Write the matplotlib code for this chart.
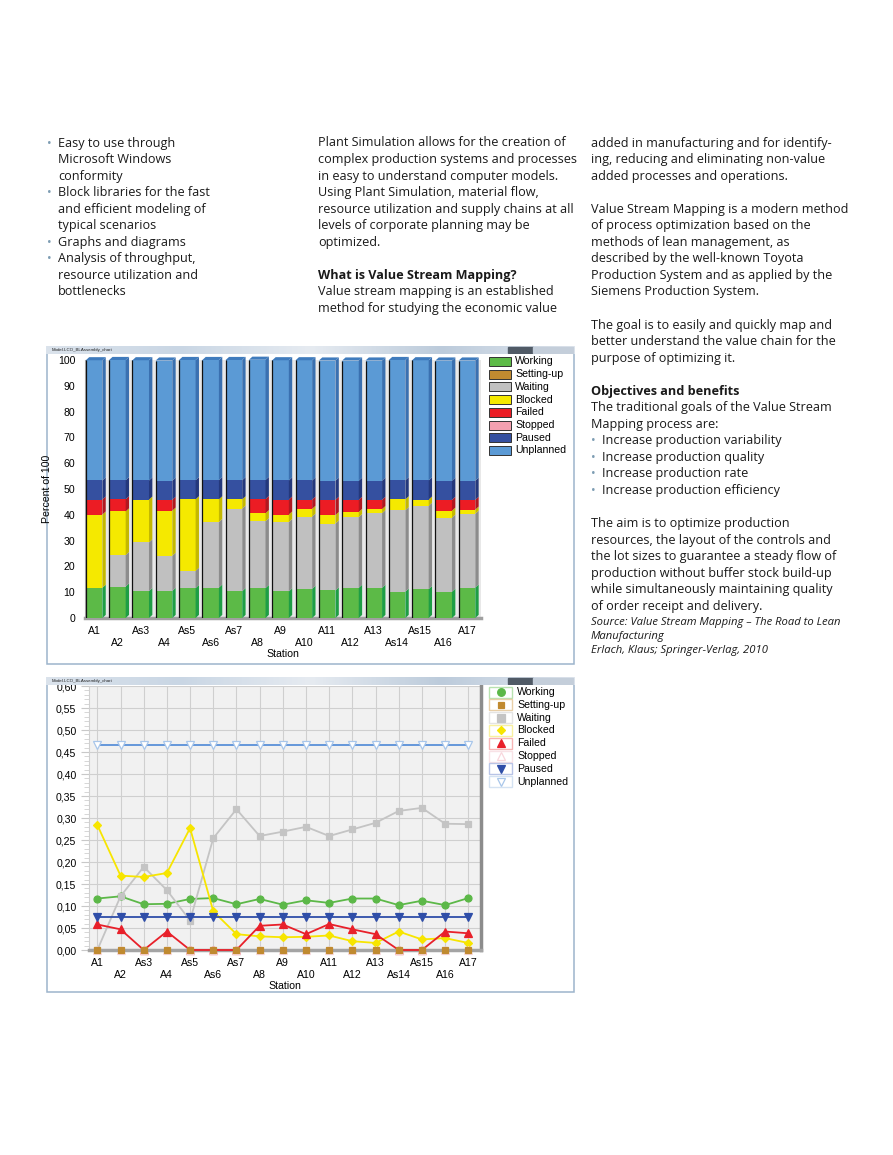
import numpy as np
import matplotlib.pyplot as plt
from matplotlib.patches import Rectangle, Polygon
from matplotlib.ticker import MultipleLocator, FuncFormatter
from matplotlib.colors import LinearSegmentedColormap

# ---------------------------------------------------------------
# data (fractions of time per station)
stations = ['A1', 'A2', 'As3', 'A4', 'As5', 'As6', 'As7', 'A8', 'A9', 'A10',
            'A11', 'A12', 'A13', 'As14', 'As15', 'A16', 'A17']
working = [0.117, 0.122, 0.104, 0.105, 0.116, 0.118, 0.104, 0.116, 0.103, 0.113,
           0.107, 0.117, 0.117, 0.102, 0.112, 0.102, 0.118]
setting_up = [0, 0, 0, 0, 0, 0, 0, 0, 0, 0, 0, 0, 0, 0, 0, 0, 0]
waiting = [0.000, 0.122, 0.189, 0.136, 0.067, 0.254, 0.320, 0.259, 0.269, 0.280,
           0.259, 0.274, 0.289, 0.316, 0.323, 0.287, 0.286]
blocked = [0.284, 0.169, 0.166, 0.175, 0.277, 0.088, 0.036, 0.031, 0.029, 0.030,
           0.033, 0.020, 0.016, 0.042, 0.024, 0.027, 0.016]
failed = [0.058, 0.047, 0.000, 0.042, 0.000, 0.000, 0.000, 0.055, 0.058, 0.036,
          0.059, 0.047, 0.036, 0.000, 0.000, 0.042, 0.038]
stopped = [0, 0, 0, 0, 0, 0, 0, 0, 0, 0, 0, 0, 0, 0, 0, 0, 0]
paused = [0.074, 0.074, 0.074, 0.074, 0.074, 0.074, 0.074, 0.074, 0.074, 0.074,
          0.074, 0.074, 0.074, 0.074, 0.074, 0.074, 0.074]
unplanned = [0.466, 0.466, 0.466, 0.466, 0.466, 0.466, 0.466, 0.466, 0.466, 0.466,
             0.466, 0.466, 0.466, 0.466, 0.466, 0.466, 0.466]

states = ['Working', 'Setting-up', 'Waiting', 'Blocked', 'Failed', 'Stopped', 'Paused', 'Unplanned']
series = [working, setting_up, waiting, blocked, failed, stopped, paused, unplanned]

# colours: front face, side face
bar_front = ['#5cba47', '#c08a30', '#c0c0c0', '#f5e900', '#ec1c24', '#f4a0b0', '#3550a0', '#5b9ad5']
bar_side = ['#1e9e45', '#8a6020', '#8c8c8c', '#c4b800', '#b01820', '#c07080', '#24387c', '#3a70b0']

line_col = ['#5cb848', '#c08a30', '#c4c4c4', '#f7e500', '#e8202a', '#f8d8dc', '#2f4ea8', '#5a90d8']
mark_face = ['#5cb848', '#c08a30', '#c4c4c4', '#f7e500', '#e8202a', 'none', '#2f4ea8', 'white']
mark_edge = ['#5cb848', '#c08a30', '#c4c4c4', '#f7e500', '#e8202a', '#f8d6dc', '#2f4ea8', '#a8c6ea']
markers = ['o', 's', 's', 'D', '^', '^', 'v', 'v']
msizes = [5, 4.2, 5, 4, 5.5, 5.5, 5.5, 5.5]
leg_box = ['#b8e2b0', '#e8cfa8', '#e4e4e4', '#f8f0a0', '#f6b4b4', '#f8e2e6', '#b8c4e6', '#d4e2f2']

# page text
col1 = ['* Easy to use through', 'Microsoft Windows', 'conformity',
        '* Block libraries for the fast', 'and efficient modeling of', 'typical scenarios',
        '* Graphs and diagrams', '* Analysis of throughput,', 'resource utilization and',
        'bottlenecks']
col2 = ['Plant Simulation allows for the creation of', 'complex production systems and processes',
        'in easy to understand computer models.', 'Using Plant Simulation, material flow,',
        'resource utilization and supply chains at all', 'levels of corporate planning may be',
        'optimized.', '', '#What is Value Stream Mapping?', 'Value stream mapping is an established',
        'method for studying the economic value']
col3 = ['added in manufacturing and for identify-', 'ing, reducing and eliminating non-value',
        'added processes and operations.', '',
        'Value Stream Mapping is a modern method', 'of process optimization based on the',
        'methods of lean management, as', 'described by the well-known Toyota',
        'Production System and as applied by the', 'Siemens Production System.', '',
        'The goal is to easily and quickly map and', 'better understand the value chain for the',
        'purpose of optimizing it.', '', '#Objectives and benefits',
        'The traditional goals of the Value Stream', 'Mapping process are:',
        '* Increase production variability', '* Increase production quality',
        '* Increase production rate', '* Increase production efficiency', '',
        'The aim is to optimize production', 'resources, the layout of the controls and',
        'the lot sizes to guarantee a steady flow of', 'production without buffer stock build-up',
        'while simultaneously maintaining quality', 'of order receipt and delivery.']
source = ['Source: Value Stream Mapping \u2013 The Road to Lean', 'Manufacturing',
          'Erlach, Klaus; Springer-Verlag, 2010']

# ---------------------------------------------------------------
W, H = 893, 1155
fig = plt.figure(figsize=(W / 100, H / 100), dpi=100)
fig.patch.set_facecolor('white')


def rect(x0, y0, x1, y1):
    # pixel box (top-left origin) -> figure fraction
    return [x0 / W, 1 - y1 / H, (x1 - x0) / W, (y1 - y0) / H]


body_font = 'Open Sans'
body_size = 9.05
text_col = '#1a1a1a'
bullet_col = '#7d9db3'
step = 16.55


def write_column(lines, x, y0, indent=0):
    for i, s in enumerate(lines):
        y = 1 - (y0 + i * step) / H
        if s.startswith('* '):
            fig.text(x / W, y, '\u2022', fontsize=body_size, color=bullet_col,
                     family=body_font, va='center')
            fig.text((x + 11) / W, y, s[2:], fontsize=body_size, color=text_col,
                     family=body_font, va='center')
        elif s.startswith('#'):
            fig.text(x / W, y, s[1:], fontsize=body_size, color=text_col,
                     family=body_font, weight='bold', va='center')
        else:
            fig.text((x + indent) / W, y, s, fontsize=body_size, color=text_col,
                     family=body_font, va='center')


write_column(col1, 47, 143, indent=11)
write_column(col2, 318, 143)
write_column(col3, 591, 143)
for i, s in enumerate(source):
    fig.text(591 / W, 1 - (622 + i * 14.5) / H, s, fontsize=8.1, color=text_col,
             family=body_font, style='italic', va='center')

chart_font = 'Liberation Sans'
fs = 7.6


def frame(x0, y0, x1, y1):
    fa = fig.add_axes(rect(x0, y0, x1, y1))
    fa.set_xlim(x0, x1)
    fa.set_ylim(y1, y0)
    fa.axis('off')
    fa.add_patch(Rectangle((x0 + 0.6, y0 + 0.6), x1 - x0 - 1.2, y1 - y0 - 1.2, facecolor='white',
                           edgecolor='#9cb4cc', lw=1.1))
    return fa


def title_bar(x0, y0, x1):
    ta = fig.add_axes(rect(x0, y0, x1, y0 + 8))
    ta.set_xlim(x0, x1)
    ta.set_ylim(y0 + 8, y0)
    ta.axis('off')
    grad = np.linspace(0, 1, 200)[None, :]
    ta.imshow(grad, cmap=LinearSegmentedColormap.from_list(
        'tb', ['#dbe3ec', '#c9d6e4', '#e6ebf1', '#bccbdb', '#e0e6ee']),
        extent=[x0, x1, y0 + 8, y0], aspect='auto')
    ta.add_patch(Rectangle((508, y0 + 1), 25, 6, color='#505a66'))
    ta.add_patch(Rectangle((533, y0 + 1), 40, 6, color='#c4ceda'))
    ta.text(x0 + 6, y0 + 4, 'Model.LCO_BLAssembly_chart', fontsize=3.2, color='#222222',
            family=chart_font, va='center')


# ---------------------------------------------------------------
# 1. stacked 3D-look bar chart
frame(46, 346, 575, 665)
ax1 = fig.add_axes(rect(85, 360, 481, 618))
ax1.set_facecolor('#e8e8e8')
x = np.arange(len(stations))
w = 0.71
dx, dy = 0.145, 1.2
bottom = np.zeros(len(stations))
for k, vals in enumerate(series):
    h = np.array(vals) * 100
    ax1.bar(x, h, bottom=bottom, width=w, color=bar_front[k], zorder=3, linewidth=0)
    for i in range(len(x)):
        if h[i] <= 0:
            continue
        xr = x[i] + w / 2
        ax1.add_patch(Polygon([(xr, bottom[i]), (xr + dx, bottom[i] + dy),
                               (xr + dx, bottom[i] + h[i] + dy), (xr, bottom[i] + h[i])],
                              closed=True, facecolor=bar_side[k], edgecolor='none',
                              zorder=3, clip_on=False))
    bottom = bottom + h
# top faces and dark left outline
for i in range(len(x)):
    xl = x[i] - w / 2
    ax1.add_patch(Polygon([(xl, bottom[i]), (xl + dx, bottom[i] + dy),
                           (xl + w + dx, bottom[i] + dy), (xl + w, bottom[i])],
                          closed=True, facecolor='#3f7bbd', edgecolor='none', zorder=3,
                          clip_on=False))
ax1.vlines(x - w / 2, 0, bottom, color='#111111', lw=0.9, zorder=4)
ax1.set_xlim(-0.39, 16.6)
ax1.set_ylim(0, 100)
ax1.set_yticks(np.arange(0, 101, 10))
ax1.set_xticks(x)
ax1.set_xticklabels([s if i % 2 == 0 else '\n' + s for i, s in enumerate(stations)])
ax1.tick_params(axis='x', length=0, pad=6, labelsize=fs)
ax1.tick_params(axis='y', length=0, pad=7, labelsize=fs)
for t in ax1.get_xticklabels() + ax1.get_yticklabels():
    t.set_family(chart_font)
ax1.set_xlabel('Station', fontsize=fs, family=chart_font, labelpad=1)
ax1.set_ylabel('Percent of 100', fontsize=fs, family=chart_font, labelpad=4)
for s in ['top', 'right']:
    ax1.spines[s].set_visible(False)
ax1.spines['left'].set_color('#b0b0b0')
ax1.spines['bottom'].set_color('#a0a0a0')
ax1.spines['bottom'].set_linewidth(2.5)

# legend for bar chart
lg1 = fig.add_axes(rect(486, 355, 575, 460))
lg1.set_xlim(486, 575)
lg1.set_ylim(460, 355)
lg1.axis('off')
for k, name in enumerate(states):
    yc = 361.5 + k * 12.7
    lg1.add_patch(Rectangle((489, yc - 4.5), 22, 9, facecolor=bar_front[k],
                            edgecolor='#333333', lw=0.7))
    lg1.text(515, yc, name, fontsize=fs, family=chart_font, va='center')
title_bar(46, 346, 575)

# ---------------------------------------------------------------
# 2. line chart
frame(46, 677, 575, 993)
ax2 = fig.add_axes(rect(89, 686, 481, 950))
ax2.set_facecolor('#f1f1f1')
zorders = [3, 5, 3, 3, 3, 4, 3, 3]
for k, vals in enumerate(series):
    lw = 0 if k in (1, 5) else 1.3   # zero series: only the markers show above the floor
    ax2.plot(x, vals, color=line_col[k], lw=lw, marker=markers[k], ms=msizes[k],
             mfc=mark_face[k], mec=mark_edge[k], mew=0.9, zorder=zorders[k], clip_on=False)
ax2.set_xlim(-0.36, 16.55)
ax2.set_ylim(0, 0.6)
ax2.set_xticks(x)
ax2.set_xticklabels([s if i % 2 == 0 else '\n' + s for i, s in enumerate(stations)])
ax2.yaxis.set_major_locator(MultipleLocator(0.05))
ax2.yaxis.set_minor_locator(MultipleLocator(0.01))
ax2.yaxis.set_major_formatter(FuncFormatter(lambda v, p: ('%.2f' % v).replace('.', ',')))
ax2.grid(True, which='major', color='#cfcfcf', lw=0.8, zorder=0)
ax2.set_axisbelow(True)
ax2.tick_params(axis='x', length=0, pad=6, labelsize=fs)
ax2.tick_params(axis='y', which='major', length=6, color='#c8c8c8', pad=3, labelsize=fs)
ax2.tick_params(axis='y', which='minor', length=3.5, color='#d0d0d0')
for t in ax2.get_xticklabels() + ax2.get_yticklabels():
    t.set_family(chart_font)
ax2.set_xlabel('Station', fontsize=fs, family=chart_font, labelpad=1)
ax2.spines['top'].set_visible(False)
ax2.spines['left'].set_color('#d0d0d0')
ax2.spines['bottom'].set_color('#a4a4a4')
ax2.spines['bottom'].set_linewidth(2.5)
ax2.spines['right'].set_color('#8c8c8c')
ax2.spines['right'].set_linewidth(2.5)

lg2 = fig.add_axes(rect(486, 685, 575, 790))
lg2.set_xlim(486, 575)
lg2.set_ylim(790, 685)
lg2.axis('off')
for k, name in enumerate(states):
    yc = 692 + k * 12.8
    lg2.add_patch(Rectangle((489, yc - 5.5), 23, 11, facecolor='white',
                            edgecolor=leg_box[k], lw=1))
    lg2.plot([500.5], [yc], marker=markers[k], ms=msizes[k] + 0.5, mfc=mark_face[k],
             mec=mark_edge[k], mew=0.9, ls='none')
    lg2.text(517, yc, name, fontsize=fs, family=chart_font, va='center')
title_bar(46, 677, 575)

fig.savefig('out.png', dpi=100)
